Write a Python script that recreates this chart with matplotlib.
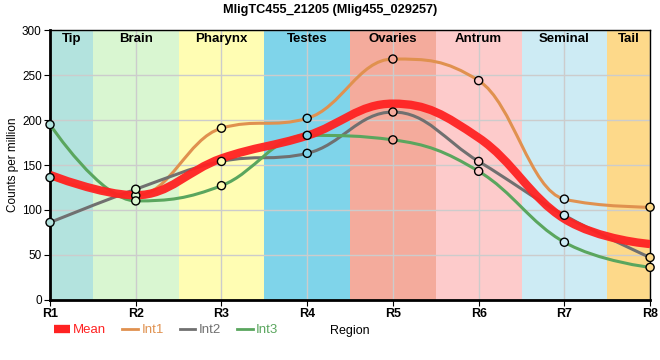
import numpy as np
import matplotlib
matplotlib.use('Agg')
import matplotlib.pyplot as plt
from matplotlib.path import Path
from matplotlib.patches import PathPatch
from matplotlib.lines import Line2D

plt.rcParams['font.family'] = ['Liberation Sans', 'DejaVu Sans']

# data
regions = ['R1', 'R2', 'R3', 'R4', 'R5', 'R6', 'R7', 'R8']
int1 = [136, 116, 191, 202, 268, 244, 112, 103]
int2 = [86, 123, 154, 163, 209, 154, 94, 47]
int3 = [195, 110, 127, 183, 178, 143, 64, 36]

band_names = ['Tip', 'Brain', 'Pharynx', 'Testes', 'Ovaries', 'Antrum', 'Seminal', 'Tail']
band_colors = ['#b3e3de', '#d9f6d1', '#fffdb3', '#7fd4ea', '#f4ab9c', '#fdcbcb', '#cdebf4', '#fdd98a']

title = 'MligTC455_21205 (Mlig455_029257)'


# spline with control points like highcharts (smoothing 1.5, no false extremes)
def spline_path(x, y):
    x = np.asarray(x, float)
    y = np.asarray(y, float)
    n = len(x)
    sm = 1.5
    den = sm + 1
    lc = [(x[i], y[i]) for i in range(n)]
    rc = [(x[i], y[i]) for i in range(n)]
    for i in range(1, n - 1):
        lx = (sm * x[i] + x[i - 1]) / den
        ly = (sm * y[i] + y[i - 1]) / den
        rx = (sm * x[i] + x[i + 1]) / den
        ry = (sm * y[i] + y[i + 1]) / den
        corr = (ry - ly) * (rx - x[i]) / (rx - lx) + y[i] - ry
        ly += corr
        ry += corr
        if ly > y[i - 1] and ly > y[i]:
            ly = max(y[i - 1], y[i])
            ry = 2 * y[i] - ly
        elif ly < y[i - 1] and ly < y[i]:
            ly = min(y[i - 1], y[i])
            ry = 2 * y[i] - ly
        if ry > y[i + 1] and ry > y[i]:
            ry = max(y[i + 1], y[i])
            ly = 2 * y[i] - ry
        elif ry < y[i + 1] and ry < y[i]:
            ry = min(y[i + 1], y[i])
            ly = 2 * y[i] - ry
        lc[i] = (lx, ly)
        rc[i] = (rx, ry)
    verts = [(x[0], y[0])]
    codes = [Path.MOVETO]
    for i in range(1, n):
        verts += [rc[i - 1], lc[i], (x[i], y[i])]
        codes += [Path.CURVE4] * 3
    return Path(verts, codes)


xs = np.arange(len(regions))
mean = (np.array(int1) + np.array(int2) + np.array(int3)) / 3

fig = plt.figure(figsize=(6.6, 3.6), dpi=100)
ax = fig.add_axes([0.0758, 0.1675, 0.9092, 0.7483])

for i, (nm, c) in enumerate(zip(band_names, band_colors)):
    lo = max(i - 0.5, 0)
    hi = min(i + 0.5, len(regions) - 1)
    ax.axvspan(lo, hi, color=c, lw=0, zorder=0)
    ax.text((lo + hi) / 2, 290, nm, ha='center', va='center',
            fontsize=9.5, fontweight='bold', zorder=5)

ax.grid(True, color='#cccccc', lw=1, zorder=1)
for gl in ax.get_xgridlines() + ax.get_ygridlines():
    gl.set_zorder(1)

series = [(int1, '#e0914f'), (int2, '#707070'), (int3, '#5aa65e')]
for vals, col in series:
    ax.add_patch(PathPatch(spline_path(xs, vals), fill=False, ec=col, lw=2.2,
                           capstyle='butt', zorder=3))
ax.add_patch(PathPatch(spline_path(xs, mean), fill=False, ec='#ff2222', lw=6,
                       alpha=0.95, capstyle='butt', zorder=4))
# circles filled with the band colour underneath
for vals, col in series:
    ax.scatter(xs, vals, s=34, c=band_colors, edgecolors='black',
               linewidths=1, zorder=6, clip_on=False)

ax.set_xlim(0, len(regions) - 1)
ax.set_ylim(0, 300)
ax.set_xticks(xs)
ax.set_xticklabels(regions, fontweight='bold', fontsize=9)
ax.set_yticks(np.arange(0, 301, 50))
ax.tick_params(axis='y', labelsize=8.5, length=4, pad=2)
ax.tick_params(axis='x', length=4, pad=2)
ax.set_ylabel('Counts per million', fontsize=8.5)
ax.yaxis.set_label_coords(-0.052, 0.5)
ax.set_xlabel('Region', fontsize=9)
ax.xaxis.set_label_coords(0.5, -0.095)

ax.spines['left'].set_linewidth(2)
ax.spines['bottom'].set_linewidth(2)
ax.spines['right'].set_linewidth(1)
ax.spines['top'].set_linewidth(1)

fig.suptitle(title, fontsize=9.2, fontweight='bold', y=0.99)

handles = [Line2D([], [], color='#ff2222', lw=6, solid_capstyle='butt'),
           Line2D([], [], color='#e0914f', lw=2),
           Line2D([], [], color='#707070', lw=2),
           Line2D([], [], color='#5aa65e', lw=2)]
fig.legend(handles, ['Mean', 'Int1', 'Int2', 'Int3'], loc='center left',
           bbox_to_anchor=(0.082, 0.083), ncol=4, frameon=False, fontsize=9.5,
           handlelength=1.2, handletextpad=0.25, columnspacing=1.2,
           labelcolor='linecolor', borderaxespad=0, borderpad=0)

fig.savefig('out.png', dpi=100)
